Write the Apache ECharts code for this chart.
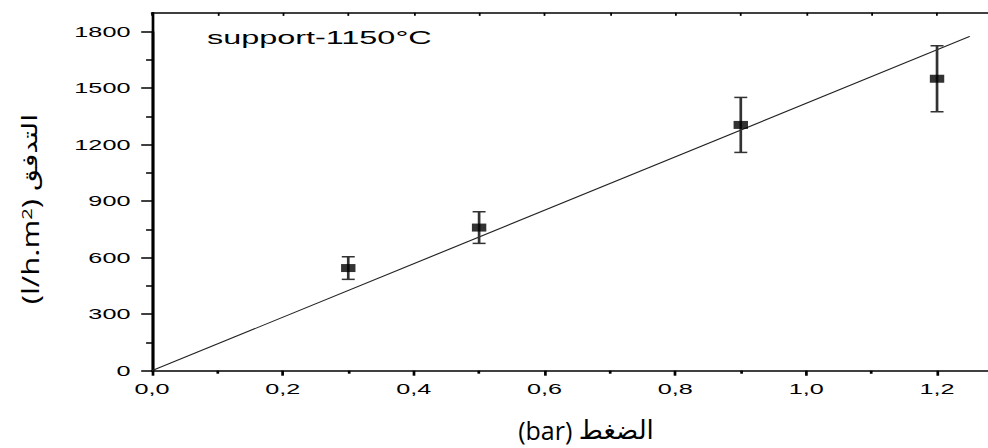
<!DOCTYPE html>
<html>
<head>
<meta charset="utf-8">
<script src="https://cdn.jsdelivr.net/npm/echarts@6/dist/echarts.min.js"></script>
<style>
  html, body { margin: 0; padding: 0; background: #fff; overflow: hidden; width: 988px; height: 448px; }
  #chart { position: absolute; left: 0; top: 0; height: 448px; transform-origin: 0 0; }
</style>
</head>
<body>
<div id="chart"></div>
<script>
// Permeate flux of the support sintered at 1150 °C versus transmembrane pressure
const pressure = [0.3, 0.5, 0.9, 1.2];          // bar
const flux = [545, 760, 1305, 1550];            // l/h.m2
const fluxError = [60, 84, 146, 175];           // standard deviation
// Linear fit drawn through the origin
const fitPressure = [0, 1.25];
const fitFlux = [0, 1775];
// Axis ranges and tick steps
const xRange = [0, 1.3];
const xStep = 0.2;
const yRange = [0, 1800];
const yStep = 300;
const yFrameTop = 1900;

// The plot is drawn narrow and widened by CSS; titles undo the widening
const STRETCH = 1.8;
const PAGE_W = 988, PAGE_H = 448;
const W = PAGE_W / STRETCH;

const dom = document.getElementById('chart');
dom.style.width = W + 'px';
dom.style.transform = 'scaleX(' + STRETCH + ')';

const chart = echarts.init(dom, null, { renderer: 'svg', width: W, height: PAGE_H });

const plotLeft = 152 / STRETCH;
const pxPerBar = 654.2 / STRETCH;
const plotWidth = (xRange[1] - xRange[0]) * pxPerBar;
const y0Pix = 370.7, yTopPix = 31.7;
const frameTopPix = y0Pix - (y0Pix - yTopPix) * yFrameTop / yRange[1];

const labelFont = 'Liberation Sans, Arial, sans-serif';
const commaFmt = v => v.toFixed(1).replace('.', ',');

chart.setOption({
  animation: false,
  backgroundColor: '#fff',
  title: {
    text: 'support-1150°C',
    left: 115, top: 29, padding: 0,
    textStyle: { fontFamily: labelFont, fontSize: 18, fontWeight: 'normal', color: '#000' }
  },
  grid: [
    { left: plotLeft, width: plotWidth, top: yTopPix, height: y0Pix - yTopPix, outerBoundsMode: 'none', containLabel: false },
    { left: plotLeft, width: plotWidth, top: frameTopPix, height: y0Pix - frameTopPix, outerBoundsMode: 'none', containLabel: false }
  ],
  xAxis: [
    {
      type: 'value', gridIndex: 0, min: xRange[0], max: xRange[1], interval: xStep,
      axisLine: { show: true, onZero: false, lineStyle: { color: '#000', width: 1.5 } },
      axisTick: { show: true, inside: false, length: 5, lineStyle: { color: '#000', width: 1.5 } },
      minorTick: { show: true, splitNumber: 2, length: 3, lineStyle: { color: '#000', width: 1.5 } },
      splitLine: { show: false },
      axisLabel: {
        show: true, margin: 11, showMaxLabel: false, formatter: commaFmt,
        fontFamily: labelFont, fontSize: 14, color: '#000'
      }
    },
    {
      type: 'value', gridIndex: 1, position: 'top', min: xRange[0], max: xRange[1], interval: 0.1,
      axisLine: { show: true, onZero: false, lineStyle: { color: '#000', width: 1.5 } },
      axisTick: { show: true, inside: true, length: 3, lineStyle: { color: '#000', width: 1 } },
      axisLabel: { show: false },
      splitLine: { show: false }
    }
  ],
  yAxis: [
    {
      type: 'value', gridIndex: 0, min: yRange[0], max: yRange[1], interval: yStep,
      axisLine: { show: true, onZero: false, lineStyle: { color: '#000', width: 1.5 } },
      axisTick: { show: true, inside: false, length: 6, lineStyle: { color: '#000', width: 1.5 } },
      minorTick: { show: true, splitNumber: 2, length: 3.3, lineStyle: { color: '#000', width: 1.5 } },
      splitLine: { show: false },
      axisLabel: {
        show: true, margin: 12, formatter: v => String(v),
        fontFamily: labelFont, fontSize: 14, color: '#000'
      }
    },
    {
      type: 'value', gridIndex: 1, min: 0, max: yFrameTop,
      axisLine: { show: true, onZero: false, lineStyle: { color: '#000', width: 1.5 } },
      axisTick: { show: false }, axisLabel: { show: false }, splitLine: { show: false }
    }
  ],
  series: [
    {
      name: 'fit', type: 'line', xAxisIndex: 0, yAxisIndex: 0,
      data: fitPressure.map((p, i) => [p, fitFlux[i]]),
      showSymbol: false, symbol: 'none', silent: true, clip: false,
      lineStyle: { color: '#222', width: 1 }, z: 2
    },
    {
      name: 'error', type: 'custom', xAxisIndex: 0, yAxisIndex: 0, silent: true,
      data: pressure.map((p, i) => [p, flux[i] - fluxError[i], flux[i] + fluxError[i]]),
      encode: { x: 0, y: [1, 2] },
      renderItem: function (params, api) {
        const lo = api.coord([api.value(0), api.value(1)]);
        const hi = api.coord([api.value(0), api.value(2)]);
        const cap = 3.6;
        const stroke = '#333';
        return {
          type: 'group',
          children: [
            { type: 'line', shape: { x1: lo[0], y1: lo[1], x2: hi[0], y2: hi[1] }, style: { stroke: stroke, lineWidth: 1.5 } },
            { type: 'line', shape: { x1: lo[0] - cap, y1: lo[1], x2: lo[0] + cap, y2: lo[1] }, style: { stroke: stroke, lineWidth: 1.5 } },
            { type: 'line', shape: { x1: hi[0] - cap, y1: hi[1], x2: hi[0] + cap, y2: hi[1] }, style: { stroke: stroke, lineWidth: 1.5 } }
          ]
        };
      },
      z: 3
    },
    {
      name: 'flux', type: 'scatter', xAxisIndex: 0, yAxisIndex: 0, silent: true,
      data: pressure.map((p, i) => [p, flux[i]]),
      symbol: 'rect', symbolSize: [8, 8],
      itemStyle: { color: '#000' }, z: 4
    }
  ],
  graphic: [
    {
      type: 'text', silent: true,
      x: 586 / STRETCH, y: 430, scaleX: 1 / STRETCH,
      style: {
        text: '{a|(bar) }{b|الضغط}',
        align: 'center', verticalAlign: 'middle',
        rich: {
          a: { fontFamily: 'Open Sans', fontSize: 25, fill: '#000' },
          b: { fontFamily: 'DejaVu Sans', fontSize: 26, fill: '#000' }
        }
      }
    },
    {
      type: 'text', silent: true,
      x: 30 / STRETCH, y: 209, rotation: Math.PI / 2, scaleX: 1.35, scaleY: 1 / STRETCH,
      style: {
        text: '{a|(l/h.m}{s|2}{a|) }{b|التدفق}',
        align: 'center', verticalAlign: 'middle',
        rich: {
          a: { fontFamily: 'Open Sans', fontSize: 23, fill: '#000' },
          s: { fontFamily: 'Open Sans', fontSize: 15, fill: '#000', verticalAlign: 'top' },
          b: { fontFamily: 'DejaVu Sans', fontSize: 21, fill: '#000' }
        }
      }
    }
  ]
});
</script>
</body>
</html>
